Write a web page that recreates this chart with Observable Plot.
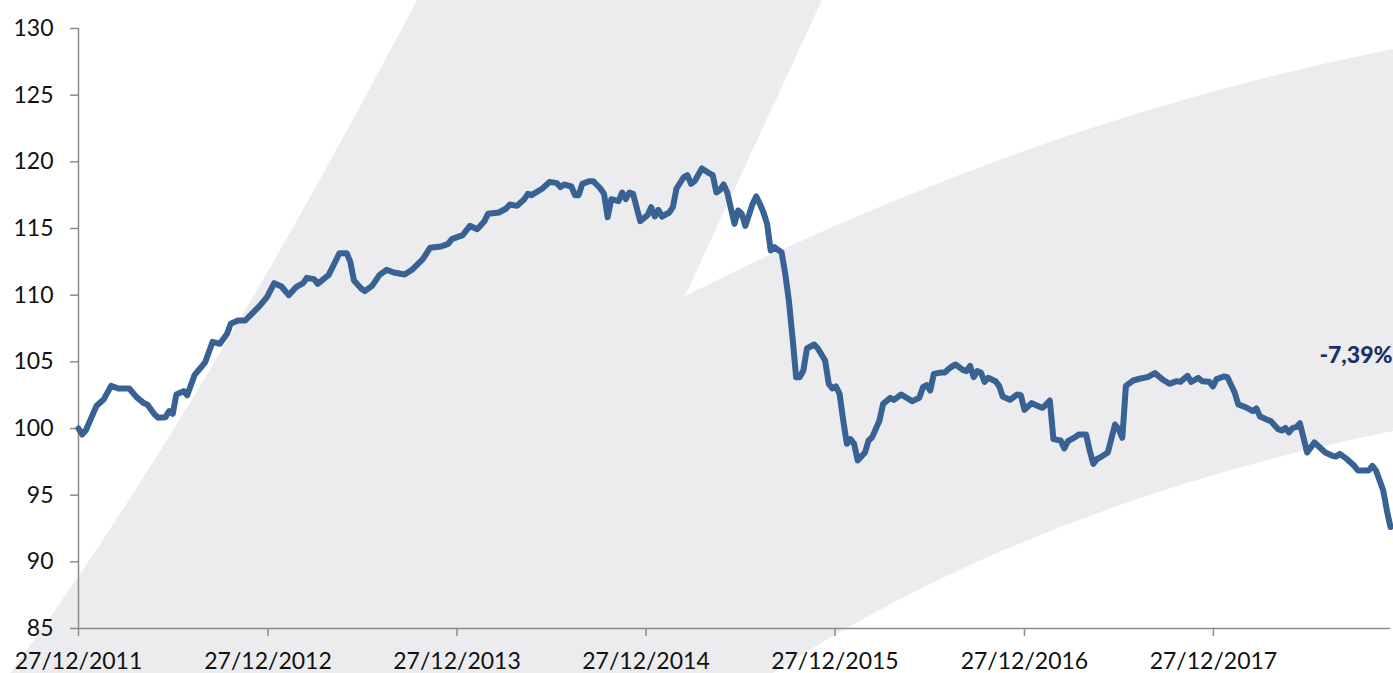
<!DOCTYPE html>
<html>
<head>
<meta charset="utf-8">
<script src="https://cdn.jsdelivr.net/npm/d3@7"></script>
<script src="https://cdn.jsdelivr.net/npm/@observablehq/plot@0.6"></script>
<style>
  html, body { margin: 0; padding: 0; background: #ffffff; }
  #wrap { position: relative; width: 1393px; height: 673px; overflow: hidden; }
  #bg { position: absolute; left: 0; top: 0; }
  #chart { position: absolute; left: 0; top: 0; }
</style>
</head>
<body>
<div id="wrap">
  <svg id="bg" width="1393" height="673" viewBox="0 0 1393 673">
    <path d="M 10,673 Q 192,427 417,0 L 822,0 L 685,296 Q 1036,120 1393,49 L 1393,431 Q 1035,503 773,673 Z" fill="#ececef"/>
  </svg>
  <div id="chart"></div>
</div>
<script>
// ---- data (weekly index since 27/12/2011, value base 100) ----
const startDateLabel = "27/12/2011";
const weeks = [0,1,2,4,5,7,9,11,14,16,18,19,21,22,24,25,26,27,29,30,32,34,35,37,39,41,42,44,46,48,50,52,54,56,58,60,62,63,65,66,68,69,71,72,74,75,76,78,79,81,83,85,87,90,92,95,97,100,102,103,106,108,110,112,113,116,118,119,121,123,124,125,128,130,132,133,134,136,137,138,139,141,142,144,145,146,147,149,150,151,152,153,155,157,158,159,160,161,163,164,165,167,168,169,170,172,174,175,176,177,178,179,181,182,183,184,186,187,188,189,190,191,192,194,195,196,197,198,199,200,201,203,204,206,207,208,209,210,211,212,213,214,215,217,218,219,221,222,224,225,227,230,232,233,234,235,236,238,239,240,241,242,244,245,246,247,248,249,250,251,253,254,255,257,259,260,261,262,263,265,266,267,268,269,271,272,273,275,276,278,279,280,281,282,284,286,287,288,289,291,293,295,297,299,301,303,304,306,307,309,310,312,313,314,316,317,319,320,322,324,325,326,328,329,331,332,333,334,335,336,337,339,341,342,344,346,347,348,350,352,353,356,357,358,360,361,362];
const values = [100.0,99.55,99.85,101.1,101.7,102.2,103.2,103.0,103.0,102.35,101.9,101.8,101.05,100.8,100.85,101.3,101.1,102.55,102.8,102.5,104.0,104.65,105.0,106.5,106.35,107.1,107.85,108.1,108.1,108.65,109.2,109.85,110.9,110.65,110.0,110.6,110.9,111.3,111.2,110.85,111.3,111.5,112.6,113.15,113.15,112.5,111.1,110.5,110.3,110.7,111.5,111.9,111.7,111.55,111.9,112.7,113.55,113.65,113.85,114.2,114.5,115.2,114.95,115.55,116.1,116.2,116.5,116.8,116.7,117.2,117.6,117.5,118.0,118.5,118.4,118.1,118.3,118.15,117.5,117.5,118.35,118.55,118.55,118.0,117.6,115.85,117.2,117.05,117.7,117.2,117.7,117.6,115.55,116.0,116.6,115.9,116.4,115.9,116.2,116.6,118.0,118.85,119.0,118.35,118.55,119.5,119.15,119.0,117.7,117.9,118.3,117.7,115.35,116.35,116.1,115.2,116.85,117.4,116.85,116.2,115.35,113.35,113.6,113.2,111.6,109.6,106.85,103.85,103.85,104.35,106.0,106.3,106.0,105.1,103.35,103.0,103.15,102.6,100.6,98.85,99.2,98.85,97.6,98.2,99.1,99.35,100.6,101.85,102.3,102.15,102.55,102.05,102.3,103.1,103.25,102.85,104.1,104.2,104.2,104.45,104.65,104.8,104.4,104.3,104.7,103.85,104.3,104.2,103.5,103.8,103.55,103.2,102.4,102.15,102.55,102.5,101.4,101.65,101.9,101.65,101.55,101.8,102.1,99.2,99.1,98.5,99.05,99.35,99.55,99.55,98.35,97.35,97.7,97.85,98.2,100.3,99.95,99.3,103.2,103.6,103.75,103.85,104.15,103.7,103.35,103.55,103.5,103.95,103.5,103.8,103.55,103.5,103.15,103.7,103.9,103.85,102.7,101.8,101.6,101.3,101.5,100.9,100.65,100.55,99.95,99.85,100.05,99.7,100.05,100.1,100.4,98.2,98.95,98.7,98.2,97.95,97.9,98.1,97.7,97.2,96.85,96.85,97.2,96.85,95.35,93.85,92.61];
const xTickLabels = ["27/12/2011","27/12/2012","27/12/2013","27/12/2014","27/12/2015","27/12/2016","27/12/2017"];
const yTicks = [85,90,95,100,105,110,115,120,125,130];

// ---- build table ----
const parseD = d3.utcParse("%d/%m/%Y");
const fmtD = d3.utcFormat("%d/%m/%Y");
const start = parseD(startDateLabel);
const data = weeks.map((w, i) => ({date: d3.utcDay.offset(start, w * 7), value: values[i]}));
const xTicks = xTickLabels.map(parseD);
const last = data[data.length - 1];
const change = (last.value / data[0].value - 1) * 100;
const changeLabel = (change >= 0 ? "+" : "-") + Math.abs(change).toFixed(2).replace(".", ",") + "%";

const axisColor = "#8c8c8c";
const chart = Plot.plot({
  width: 1393,
  height: 673,
  marginLeft: 78,
  marginRight: 3,
  marginTop: 28,
  marginBottom: 45,
  style: {background: "transparent", fontFamily: "Lato, 'Open Sans', sans-serif", fontSize: "23px", color: "#111"},
  x: {type: "utc", domain: [start, last.date]},
  y: {domain: [85, 130]},
  marks: [
    Plot.axisY({ticks: yTicks, tickSize: 8, tickPadding: 17, stroke: axisColor, strokeWidth: 1.5, label: null, fontSize: 23}),
    Plot.axisX({ticks: xTicks, tickFormat: fmtD, tickSize: 8, tickPadding: 16, stroke: axisColor, strokeWidth: 1.5, label: null, fontSize: 23}),
    Plot.ruleX([start], {stroke: axisColor, strokeWidth: 1.5}),
    Plot.ruleY([85], {stroke: axisColor, strokeWidth: 1.5}),
    Plot.line(data, {x: "date", y: "value", stroke: "#386194", strokeWidth: 6, strokeLinejoin: "round", strokeLinecap: "round"}),
    Plot.text([{date: last.date, value: 105.45, label: changeLabel}], {x: "date", y: "value", text: "label", textAnchor: "end", dx: 2, fill: "#1a3263", fontWeight: 900, fontSize: 23})
  ]
});
document.getElementById("chart").appendChild(chart);
</script>
</body>
</html>
